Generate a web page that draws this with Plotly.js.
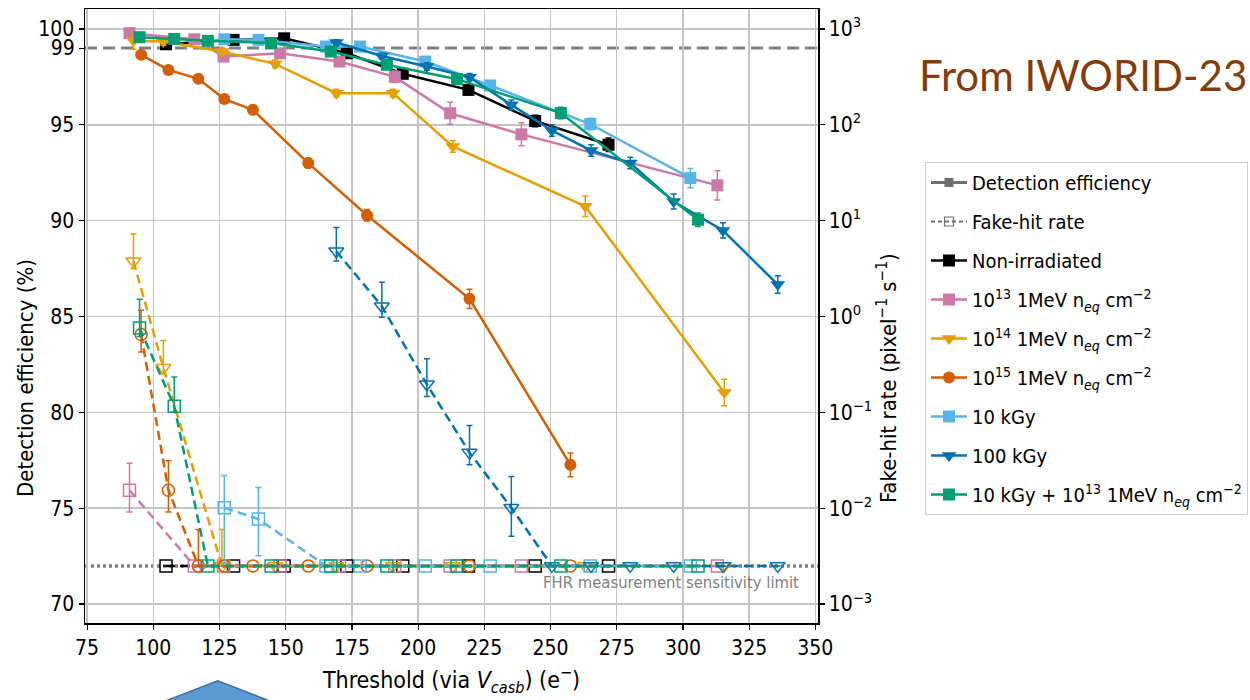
<!DOCTYPE html>
<html><head><meta charset="utf-8">
<script src="https://cdn.plot.ly/plotly-3.0.1.min.js"></script>
<style>html,body{margin:0;padding:0;background:#fff}#chart{width:1250px;height:700px}</style>
</head><body><div id="chart"></div>
<script>
// ---- reference levels ----
const EFF_REF = 99;          // dashed 99 % line
const FHR_LIMIT = 0.0025;    // FHR measurement sensitivity limit

// ---- Non-irradiated ----
const nonIrrX   = [104.8,130.3,149.4,173.1,194.2,219.0,244.2,271.9];
const nonIrrEff = [99.2,99.43,99.51,98.73,97.66,96.82,95.2,93.96];
const nonIrrEffErr = [0.15,0.15,0.15,0.15,0.2,0.25,0.3,0.35];
const nonIrrFhr = [0.0025,0.0025,0.0025,0.0025,0.0025,0.0025,0.0025,0.0025];
const nonIrrFhrUp = [0,0,0,0,0,0,0,0];
const nonIrrFhrLo = [0,0,0,0,0,0,0,0];

// ---- 1e13 ----
const n13X   = [91.0,115.5,126.5,147.9,170.3,191.2,212.1,239.0,313.0];
const n13Eff = [99.78,99.46,98.56,98.73,98.3,97.5,95.6,94.5,91.84];
const n13EffErr = [0.15,0.15,0.2,0.2,0.2,0.3,0.57,0.6,0.76];
const n13Fhr = [0.0154,0.0025,0.0025,0.0025,0.0025,0.0025,0.0025,0.0025,0.0025];
const n13FhrUp = [0.014,0,0,0,0,0,0,0,0];
const n13FhrLo = [0.0063,0,0,0,0,0,0,0,0];

// ---- 1e14 ----
const n14X   = [92.5,103.8,125.9,146.0,169.1,190.5,213.1,263.1,315.6];
const n14Eff = [99.39,99.35,98.82,98.18,96.65,96.65,93.87,90.75,81.03];
const n14EffErr = [0.45,0.2,0.2,0.2,0.2,0.2,0.3,0.54,0.69];
const n14Fhr = [3.77,0.292,0.0025,0.0025,0.0025,0.0025,0.0025,0.0025,0.0025];
const n14FhrUp = [3.5,0.27,0.0035,0,0,0,0,0,0];
const n14FhrLo = [0.6,0.04,0,0,0,0,0,0,0];

// ---- 1e15 ----
const n15X   = [95.4,105.7,117.0,126.8,137.6,158.5,180.7,219.4,257.5];
const n15Eff = [98.65,97.86,97.4,96.34,95.78,93.0,90.28,85.92,77.26];
const n15EffErr = [0.15,0.15,0.15,0.2,0.2,0.25,0.3,0.5,0.62];
const n15Fhr = [0.649,0.0154,0.0025,0.0025,0.0025,0.0025,0.0025,0.0025,0.0025];
const n15FhrUp = [0.51,0.0158,0.0035,0,0,0,0,0,0];
const n15FhrLo = [0.224,0.0063,0,0,0,0,0,0,0];

// ---- 10 kGy ----
const k10X   = [126.8,139.7,165.2,178.1,202.7,227.2,265.0,302.8];
const k10Eff = [99.46,99.43,99.08,99.08,98.3,97.05,95.04,92.22];
const k10EffErr = [0.15,0.15,0.15,0.15,0.2,0.25,0.3,0.5];
const k10Fhr = [0.0101,0.00769,0.0025,0.0025,0.0025,0.0025,0.0025,0.0025];
const k10FhrUp = [0.0118,0.0087,0,0,0,0,0,0];
const k10FhrLo = [0.0075,0.0045,0,0,0,0,0,0];

// ---- 100 kGy ----
const k100X   = [169.1,186.3,203.3,219.4,235.2,250.5,265.3,280.1,296.5,315.1,335.8];
const k100Eff = [99.29,98.59,98.04,97.48,96.04,94.7,93.66,93.0,91.0,89.49,86.67];
const k100EffErr = [0.15,0.15,0.2,0.2,0.25,0.3,0.3,0.3,0.39,0.4,0.46];
const k100Fhr = [4.79,1.28,0.196,0.038,0.0101,0.0025,0.0025,0.0025,0.0025,0.0025,0.0025];
const k100FhrUp = [3.7,1.0,0.167,0.0348,0.0113,0,0,0,0,0,0];
const k100FhrLo = [1.0,0.3,0.05,0.0096,0.005,0,0,0,0,0,0];

// ---- 10 kGy + 1e13 ----
const mixX   = [94.8,107.9,120.6,144.5,167.0,188.2,214.7,253.9,305.7];
const mixEff = [99.57,99.48,99.38,99.26,98.82,98.13,97.38,95.61,90.05];
const mixEffErr = [0.15,0.15,0.15,0.15,0.2,0.2,0.25,0.3,0.35];
const mixFhr = [0.759,0.116,0.0025,0.0025,0.0025,0.0025,0.0025,0.0025,0.0025];
const mixFhrUp = [0.75,0.117,0,0,0,0,0,0,0];
const mixFhrLo = [0.14,0.016,0,0,0,0,0,0,0];

const xTicks = [75,100,125,150,175,200,225,250,275,300,325,350];
const yTicks = [70,75,80,85,90,95,100];
const yExtraTicks = [99];
const y2Ticks = [1e-3,1e-2,1e-1,1,10,100,1000];
const y2TickText = ['10<sup>−3</sup>','10<sup>−2</sup>','10<sup>−1</sup>','10<sup>0</sup>','10<sup>1</sup>','10<sup>2</sup>','10<sup>3</sup>'];

const neq = ' 1MeV n<sub><i>eq</i></sub> cm<sup>−2</sup>';
const series = [
  {name:'Non-irradiated', color:'#000000', sym:'square', x:nonIrrX, eff:nonIrrEff, effErr:nonIrrEffErr, fhr:nonIrrFhr, up:nonIrrFhrUp, lo:nonIrrFhrLo},
  {name:'10<sup>13</sup>'+neq, color:'#CC79A7', sym:'square', x:n13X, eff:n13Eff, effErr:n13EffErr, fhr:n13Fhr, up:n13FhrUp, lo:n13FhrLo},
  {name:'10<sup>14</sup>'+neq, color:'#E69F00', sym:'triangle-down', x:n14X, eff:n14Eff, effErr:n14EffErr, fhr:n14Fhr, up:n14FhrUp, lo:n14FhrLo},
  {name:'10<sup>15</sup>'+neq, color:'#D55E00', sym:'circle', x:n15X, eff:n15Eff, effErr:n15EffErr, fhr:n15Fhr, up:n15FhrUp, lo:n15FhrLo},
  {name:'10 kGy', color:'#56B4E9', sym:'square', x:k10X, eff:k10Eff, effErr:k10EffErr, fhr:k10Fhr, up:k10FhrUp, lo:k10FhrLo},
  {name:'100 kGy', color:'#0072B2', sym:'triangle-down', x:k100X, eff:k100Eff, effErr:k100EffErr, fhr:k100Fhr, up:k100FhrUp, lo:k100FhrLo},
  {name:'10 kGy + 10<sup>13</sup>'+neq, color:'#009E73', sym:'square', x:mixX, eff:mixEff, effErr:mixEffErr, fhr:mixFhr, up:mixFhrUp, lo:mixFhrLo}
];

const FONT = 'DejaVu Sans Condensed, DejaVu Sans, sans-serif';
const Y_RANGE = [69.01, 101.04];

const traces = [];
traces.push({x:[null], y:[null], name:'Detection efficiency', mode:'lines+markers', legendgroup:'g0',
  line:{color:'#6e6e6e', width:3}, marker:{symbol:'square', size:9, color:'#6e6e6e'}, hoverinfo:'skip'});
traces.push({x:[null], y:[null], name:'Fake-hit rate', mode:'lines+markers', legendgroup:'g1',
  line:{color:'#6e6e6e', width:2, dash:'4px,3px'}, marker:{symbol:'square-open', size:9, color:'#6e6e6e', line:{width:1.2}}, hoverinfo:'skip'});
// carrier for the extra "99" tick axis
traces.push({x:[null], y:[null], yaxis:'y3', showlegend:false, mode:'markers', hoverinfo:'skip'});

series.forEach((s,i)=>{
  traces.push({x:s.x, y:s.eff, name:s.name, legendgroup:'s'+i, mode:'lines+markers', yaxis:'y',
    line:{color:s.color, width:2.5}, marker:{symbol:s.sym, size:s.sym==='triangle-down'?13:12, color:s.color},
    error_y:{type:'data', array:s.effErr, color:s.color, thickness:1.5, width:3}});
});
series.forEach((s,i)=>{
  traces.push({x:s.x, y:s.fhr, name:s.name+' FHR', legendgroup:'s'+i, showlegend:false, mode:'lines+markers', yaxis:'y2',
    line:{color:s.color, width:2.5, dash:'9px,5px'}, marker:{symbol:s.sym+'-open', size:s.sym==='triangle-down'?13:12, color:s.color, line:{width:1.5, color:s.color}},
    error_y:{type:'data', symmetric:false, array:s.up, arrayminus:s.lo, color:s.color, thickness:1.5, width:3}});
});

const L = 85, T = 9, W = 733, H = 614;
const px = v => (v - L) / W;
const py = v => (T + H - v) / H;
// left-axis position equivalent of a fake-hit rate (the two axes share decades: 10^0 <-> 85 %, one decade <-> 5 %)
const fhrToLeft = f => 85 + 5 * Math.log10(f);

const tickStyle = {ticks:'outside', ticklen:5, tickwidth:1.2, tickcolor:'#000', automargin:false, zeroline:false,
  tickfont:{size:21, family:FONT}};

const layout = {
  width:1250, height:700,
  margin:{l:L, r:1250-L-W, t:T, b:700-T-H, autoexpand:false},
  paper_bgcolor:'#ffffff', plot_bgcolor:'#ffffff',
  font:{family:FONT, color:'#000', size:20},
  showlegend:true,
  legend:{x:px(925), y:py(162), xanchor:'left', yanchor:'top', bgcolor:'#ffffff', bordercolor:'#cccccc', borderwidth:1,
    font:{family:FONT, size:20}, tracegroupgap:10, itemwidth:36},
  xaxis:Object.assign({range:[74.2,351], tickvals:xTicks,
    showline:true, linecolor:'#000', linewidth:1.5, mirror:true, showgrid:true, gridcolor:'#c4c4c4', gridwidth:1.5,
    title:{text:'Threshold (via <i>V</i><sub><i>casb</i></sub>) (e<sup>−</sup>)', font:{size:23, family:FONT}, standoff:13}}, tickStyle),
  yaxis:Object.assign({range:Y_RANGE, tickvals:yTicks,
    showline:true, linecolor:'#000', linewidth:1.5, showgrid:true, gridcolor:'#c4c4c4', gridwidth:1.5}, tickStyle),
  yaxis3:Object.assign({range:Y_RANGE, tickvals:yExtraTicks, overlaying:'y', side:'left', showgrid:false, showline:false}, tickStyle),
  yaxis2:Object.assign({type:'log', overlaying:'y', side:'right', range:[-3.198,3.208], tickvals:y2Ticks, ticktext:y2TickText,
    showline:true, linecolor:'#000', linewidth:1.5, showgrid:false}, tickStyle),
  shapes:[
    {type:'line', xref:'x domain', x0:0, x1:1, yref:'y', y0:EFF_REF, y1:EFF_REF, layer:'below',
      line:{color:'#808080', width:3, dash:'12px,6px'}},
    {type:'line', xref:'x domain', x0:0, x1:1, yref:'y', y0:fhrToLeft(FHR_LIMIT), y1:fhrToLeft(FHR_LIMIT), layer:'below',
      line:{color:'#808080', width:3.5, dash:'3px,3px'}},
    {type:'path', xref:'paper', yref:'paper', layer:'above',
      path:`M ${px(137)} ${py(712)} L ${px(217.7)} ${py(680.7)} L ${px(298)} ${py(712)} Z`,
      fillcolor:'#5B9BD5', line:{color:'#41719C', width:1.5}}
  ],
  annotations:[
    {xref:'paper', x:px(25), yref:'paper', y:py(378), textangle:-90, showarrow:false, xanchor:'center', yanchor:'middle',
      text:'Detection efficiency (%)', font:{family:FONT, size:22}},
    {xref:'paper', x:px(887), yref:'paper', y:py(378), textangle:-90, showarrow:false, xanchor:'center', yanchor:'middle',
      text:'Fake-hit rate (pixel<sup>−1</sup> s<sup>−1</sup>)', font:{family:FONT, size:22}},
    {xref:'paper', x:px(801), yref:'y', y:fhrToLeft(FHR_LIMIT), yshift:-5, xanchor:'right', yanchor:'top', showarrow:false,
      text:'FHR measurement sensitivity limit', font:{family:FONT, size:16.5, color:'#808080'}},
    {xref:'paper', x:px(1083), yref:'paper', y:py(75), xanchor:'center', yanchor:'middle', showarrow:false,
      text:'From IWORID-23', font:{family:'Lato, Open Sans, sans-serif', size:42, color:'#843C0C'}}
  ]
};

Plotly.newPlot('chart', traces, layout, {displayModeBar:false, staticPlot:true});
</script>
</body></html>
